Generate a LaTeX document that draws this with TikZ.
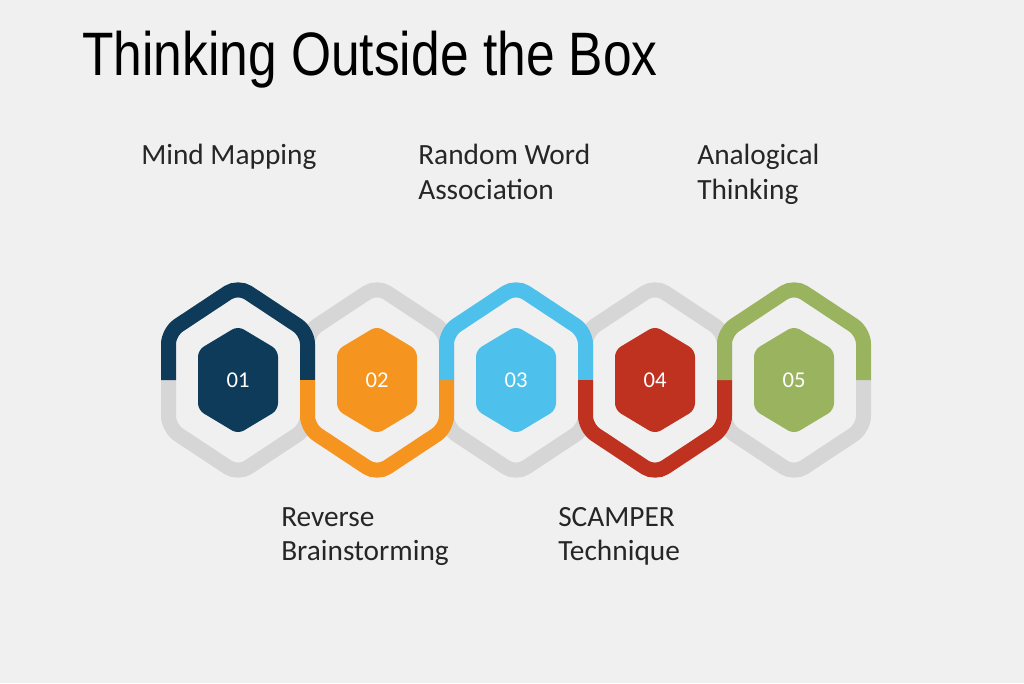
\documentclass[tikz,border=0pt]{standalone}
\usepackage{fontspec}
\setmainfont{Carlito}
\usetikzlibrary{positioning}
\definecolor{navyc}{HTML}{0F3B5A}
\definecolor{orangec}{HTML}{F5941E}
\definecolor{bluec}{HTML}{4DC0EC}
\definecolor{redc}{HTML}{BF3220}
\definecolor{greenc}{HTML}{9AB35F}
\definecolor{ringgray}{HTML}{D6D6D6}
\definecolor{bgc}{HTML}{F0F0F0}
\begin{document}
\begin{tikzpicture}[
        x=0.75pt, y=-0.75pt,
        % Define a style for the half rings
        ring/.style={line width=11.25pt, rounded corners=9pt, line cap=butt},
        % Define a style for the labels
        label_text/.style={anchor=north west, align=left, inner sep=0pt, font=\fontsize{22}{26}\selectfont, text=black!85}
    ]

    % Background
    \fill[bgc] (0,0) rectangle (1024,683);
    \useasboundingbox (0,0) rectangle (1024,683);

    % Title
    \node[anchor=base west, inner sep=0pt, xscale=0.84, font=\fontsize{46}{50}\selectfont\fontspec{Liberation Sans}] (title) at (82,75) {Thinking Outside the Box};

    % Draw the gray halves first
    \foreach \k/\side in {0/-1,1/1,2/-1,3/1,4/-1}
    {
        \pgfmathsetmacro{\cx}{238 + \k*139}
        \begin{scope}[shift={(\cx,380)}]
            \draw[ring, ringgray] (-69.5,0) -- (-69.5,-48*\side) -- (0,-94*\side) -- (69.5,-48*\side) -- (69.5,0);
        \end{scope}
    }

    % Draw the coloured halves and the inner hexagons
    \foreach \k/\side/\col/\num in {0/1/navyc/01,1/-1/orangec/02,2/1/bluec/03,3/-1/redc/04,4/1/greenc/05}
    {
        \pgfmathsetmacro{\cx}{238 + \k*139}
        \begin{scope}[shift={(\cx,380)}]
            \draw[ring, \col] (-69.5,0) -- (-69.5,-48*\side) -- (0,-94*\side) -- (69.5,-48*\side) -- (69.5,0);
            \fill[\col, rounded corners=5pt] (-40,-30) -- (0,-54) -- (40,-30) -- (40,30) -- (0,54) -- (-40,30) -- cycle;
            \node[text=white, font=\fontsize{17}{20}\selectfont] (n\num) at (0,0) {\num};
        \end{scope}
    }

    % Labels above and below
    \node[label_text] (mind) at (141,144) {Mind Mapping};
    \node[label_text] (random) at (418,144) {Random Word\\Association};
    \node[label_text] (analog) at (697,144) {Analogical\\Thinking};
    \node[label_text] (reverse) at (281,507) {Reverse\\Brainstorming};
    \node[label_text] (scamper) at (558,507) {SCAMPER\\Technique};

\end{tikzpicture}
\end{document}
